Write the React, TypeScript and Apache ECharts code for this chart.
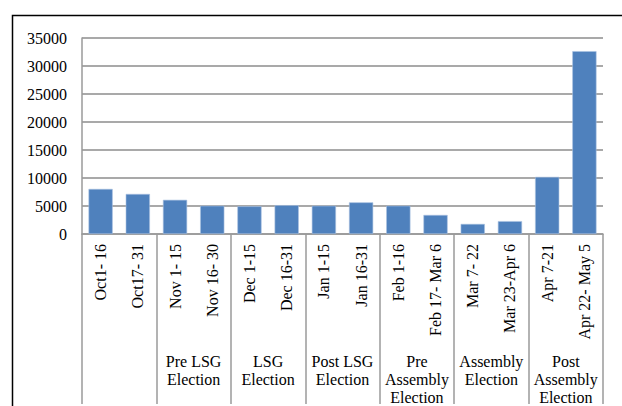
import React, { useEffect, useRef } from "react";
import * as echarts from "echarts";

const categories = [
  "Oct1- 16",
  "Oct17- 31",
  "Nov 1- 15",
  "Nov 16- 30",
  "Dec 1-15",
  "Dec 16-31",
  "Jan 1-15",
  "Jan 16-31",
  "Feb 1-16",
  "Feb 17- Mar 6",
  "Mar 7- 22",
  "Mar 23-Apr 6",
  "Apr 7-21",
  "Apr 22- May 5",
];

const values = [8050, 7150, 6100, 5050, 4950, 5150, 5050, 5650, 5050, 3400, 1800, 2300, 10200, 32650];

const groups = [
  "",
  "Pre LSG\nElection",
  "LSG\nElection",
  "Post LSG\nElection",
  "Pre\nAssembly\nElection",
  "Assembly\nElection",
  "Post\nAssembly\nElection",
];

const FONT = "serif";
const FS = 16;

export default function App() {
  const ref = useRef<HTMLDivElement>(null);
  useEffect(() => {
    if (!ref.current) return;
    const chart = echarts.init(ref.current, undefined, { renderer: "svg" });
    chart.setOption({
      animation: false,
      backgroundColor: "#ffffff",
      textStyle: { fontFamily: FONT },
      grid: { left: 82, right: 19, top: 38, bottom: 168, containLabel: false },
      xAxis: [
        {
          type: "category",
          position: "bottom",
          data: categories,
          axisLine: { show: false },
          axisTick: { show: false },
          axisLabel: {
            rotate: 90,
            margin: 10,
            interval: 0,
            color: "#000",
            fontFamily: FONT,
            fontSize: FS,
          },
        },
        {
          type: "category",
          position: "bottom",
          data: groups,
          axisLine: { show: true, lineStyle: { color: "#9a9a9a", width: 1.5 } },
          axisTick: {
            show: true,
            length: 170,
            interval: 0,
            lineStyle: { color: "#9a9a9a", width: 1.5 },
          },
          axisLabel: {
            interval: 0,
            margin: 118,
            color: "#000",
            fontFamily: FONT,
            fontSize: FS,
            lineHeight: 18,
            align: "center",
          },
        },
      ],
      yAxis: {
        type: "value",
        min: 0,
        max: 35000,
        interval: 5000,
        axisLine: { show: true, lineStyle: { color: "#9a9a9a", width: 1.5 } },
        axisTick: { show: false },
        axisLabel: {
          color: "#000",
          fontFamily: FONT,
          fontSize: FS,
          margin: 15,
          formatter: (v: number) => String(v),
        },
        splitLine: { show: true, lineStyle: { color: "#8c8c8c", width: 1.5 } },
      },
      series: [
        {
          type: "bar",
          xAxisIndex: 0,
          data: values,
          barCategoryGap: "35%",
          itemStyle: { color: "#4f81bd", borderColor: "#a9c1e0", borderWidth: 0.6 },
        },
      ],
      graphic: [
        {
          type: "rect",
          left: 10,
          top: 13,
          shape: { x: 0, y: 0, width: 700, height: 500 },
          style: { fill: "none", stroke: "#000", lineWidth: 1.5 },
          silent: true,
          z: 100,
        },
      ],
    });
    return () => chart.dispose();
  }, []);
  return (
    <div
      ref={ref}
      style={{ position: "fixed", left: 0, top: 0, width: 622, height: 406 }}
    />
  );
}
